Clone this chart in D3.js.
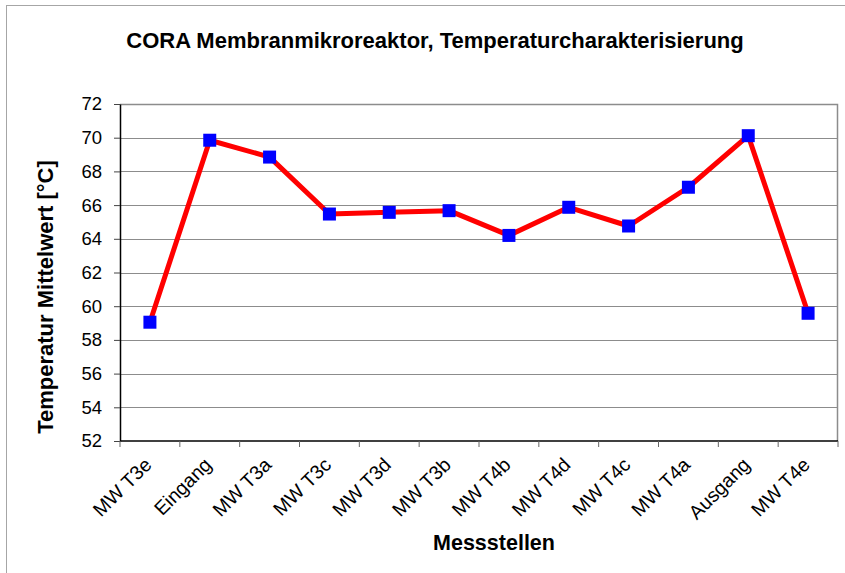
<!DOCTYPE html>
<html>
<head>
<meta charset="utf-8">
<script src="https://cdn.jsdelivr.net/npm/d3@7"></script>
<style>
  body { margin: 0; background: #fff; }
  svg { display: block; font-family: "Liberation Sans", Arial, sans-serif; }
</style>
</head>
<body>
<svg id="chart" width="845" height="573"></svg>
<script>
// Messstellen und Mittelwerte
const stellen = ["MW T3e", "Eingang", "MW T3a", "MW T3c", "MW T3d", "MW T3b",
  "MW T4b", "MW T4d", "MW T4c", "MW T4a", "Ausgang", "MW T4e"];
const mittelwerte = [59.05, 69.85, 68.85, 65.47, 65.57, 65.67,
  64.2, 65.87, 64.76, 67.06, 70.12, 59.58];
const yTicks = [52, 54, 56, 58, 60, 62, 64, 66, 68, 70, 72];

const svg = d3.select("#chart");
const margin = {left: 120, top: 104, right: 7, bottom: 132};
const width = 845 - margin.left - margin.right;
const height = 573 - margin.top - margin.bottom;

// outer chart frame
svg.append("rect")
  .attr("x", 6.5).attr("y", 5.5)
  .attr("width", 850).attr("height", 600)
  .attr("fill", "none").attr("stroke", "#a6a6a6");

const g = svg.append("g").attr("transform", `translate(${margin.left},${margin.top})`);

const x = d3.scaleBand().domain(stellen).range([0, width]);
const y = d3.scaleLinear().domain([52, 72]).range([height, 0]);

// gridlines
g.selectAll(".grid").data(yTicks.slice(1)).join("line")
  .attr("x1", 0).attr("x2", width)
  .attr("y1", d => Math.round(y(d)) + 0.5).attr("y2", d => Math.round(y(d)) + 0.5)
  .attr("stroke", "#8c8c8c").attr("stroke-width", 1);

// plot area border (top/right)
g.append("path")
  .attr("d", `M0,0.5H${width - 0.5}V${height}`)
  .attr("fill", "none").attr("stroke", "#8c8c8c").attr("stroke-width", 1.5);

// y axis
const yAxis = g.append("g")
  .call(d3.axisLeft(y).tickValues(yTicks).tickSize(6).tickSizeOuter(0).tickPadding(12));
yAxis.select(".domain").attr("stroke", "#000").attr("stroke-width", 1.5);
yAxis.selectAll(".tick line").attr("stroke", "#444");
yAxis.selectAll("text").attr("font-size", 18.5).attr("fill", "#000")
  .attr("font-family", "Liberation Sans, Arial, sans-serif");

// x axis with ticks at category boundaries
const xAxisG = g.append("g").attr("transform", `translate(0,${height})`);
xAxisG.append("line").attr("x1", 0).attr("x2", width).attr("y1", 0).attr("y2", 0)
  .attr("stroke", "#000").attr("stroke-width", 1.5);
const bounds = stellen.map(s => x(s)).concat([width]);
xAxisG.selectAll(".xt").data(bounds).join("line")
  .attr("x1", d => d).attr("x2", d => d).attr("y1", 0).attr("y2", 6)
  .attr("stroke", "#666");
xAxisG.selectAll(".xl").data(stellen).join("text")
  .attr("transform", d => `translate(${x(d) + x.bandwidth() / 2 + 3},${25}) rotate(-45)`)
  .attr("text-anchor", "end")
  .attr("font-size", 19.5)
  .text(d => d);

// line + markers
const line = d3.line()
  .x((d, i) => x(stellen[i]) + x.bandwidth() / 2)
  .y(d => y(d));
g.append("path").datum(mittelwerte)
  .attr("d", line)
  .attr("fill", "none").attr("stroke", "#ff0000").attr("stroke-width", 5)
  .attr("stroke-linejoin", "round");
g.selectAll(".pt").data(mittelwerte).join("rect")
  .attr("x", (d, i) => x(stellen[i]) + x.bandwidth() / 2 - 6.5)
  .attr("y", d => y(d) - 6.5)
  .attr("width", 13).attr("height", 13)
  .attr("fill", "#0000ff");

// titles
svg.append("text")
  .attr("x", 435).attr("y", 48)
  .attr("text-anchor", "middle")
  .attr("font-size", 22).attr("font-weight", "bold")
  .text("CORA Membranmikroreaktor, Temperaturcharakterisierung");

svg.append("text")
  .attr("transform", `translate(53,297) rotate(-90)`)
  .attr("text-anchor", "middle")
  .attr("font-size", 22).attr("font-weight", "bold")
  .text("Temperatur Mittelwert [°C]");

svg.append("text")
  .attr("x", 494).attr("y", 550)
  .attr("text-anchor", "middle")
  .attr("font-size", 21.5).attr("font-weight", "bold")
  .text("Messstellen");
</script>
</body>
</html>
